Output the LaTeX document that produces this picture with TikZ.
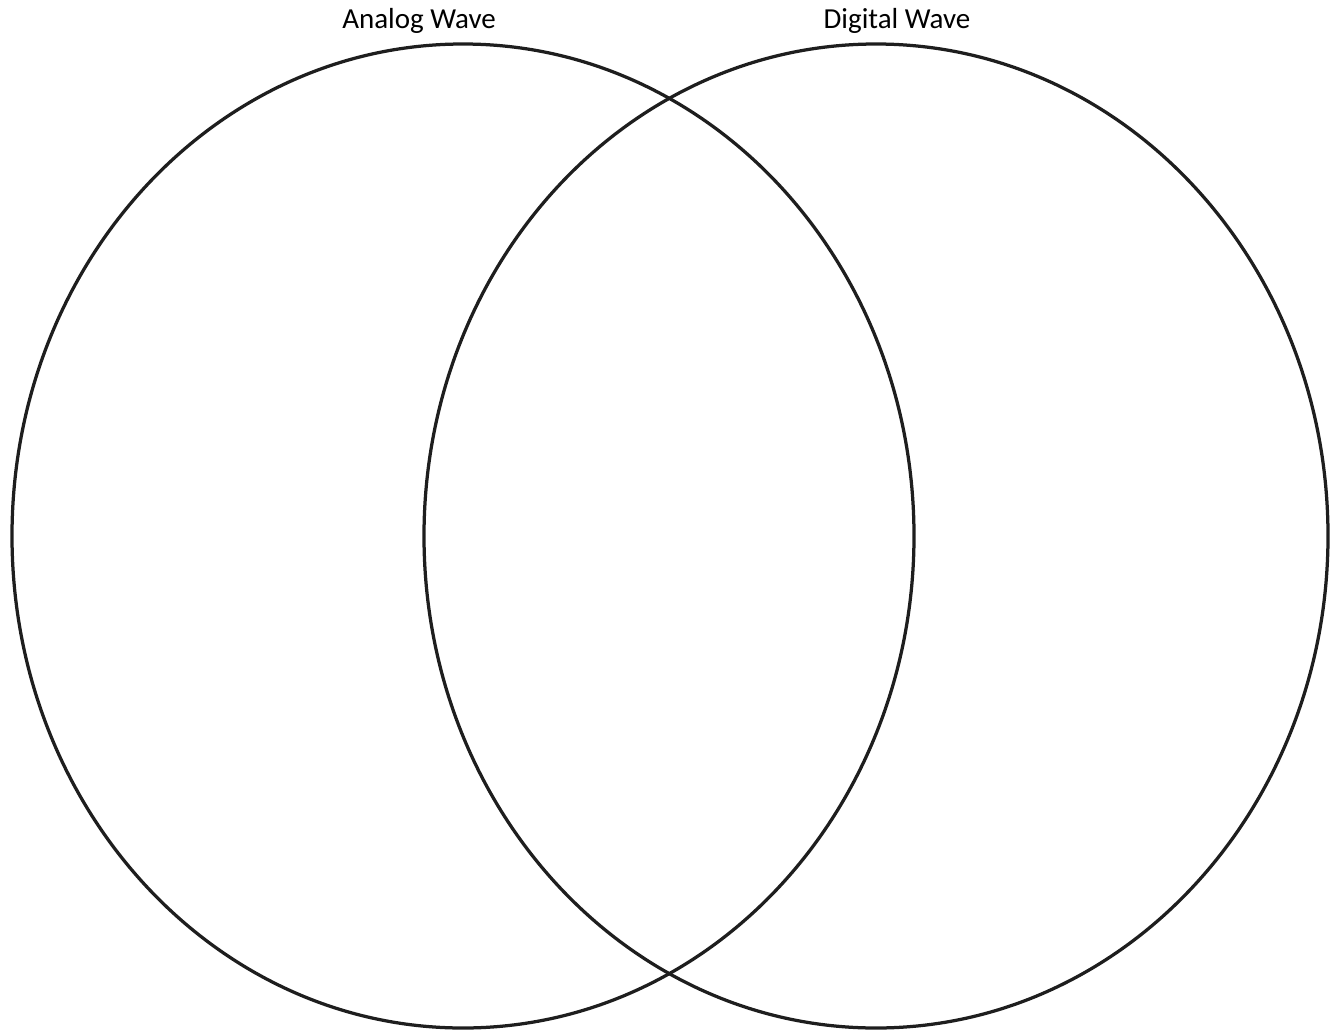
\documentclass[tikz,border=0pt]{standalone}
\usepackage{fontspec}
\setmainfont{Carlito}
\usetikzlibrary{positioning, shapes.geometric}
\definecolor{rimgray}{HTML}{1E1E1E}

\begin{document}
\begin{tikzpicture}[
    set/.style={draw=rimgray, ellipse, line width=0.065cm, inner sep=0pt,
                minimum width=#1, minimum height=19.68cm},
    set/.default=18.04cm,
    title/.style={font=\fontsize{16.5}{19}\selectfont, text=black, anchor=base},
]
\useasboundingbox (0,0) rectangle (26.76,-20.64);

% Sets
\node[set=18.04cm] (analog)  at (9.26,-10.72)  {};
\node[set=18.08cm] (digital) at (17.52,-10.72) {};

% Set titles
\node[title] (analogT)  at (8.38,-0.58)  {Analog Wave};
\node[title] (digitalT) at (17.94,-0.58) {Digital Wave};
\end{tikzpicture}
\end{document}
